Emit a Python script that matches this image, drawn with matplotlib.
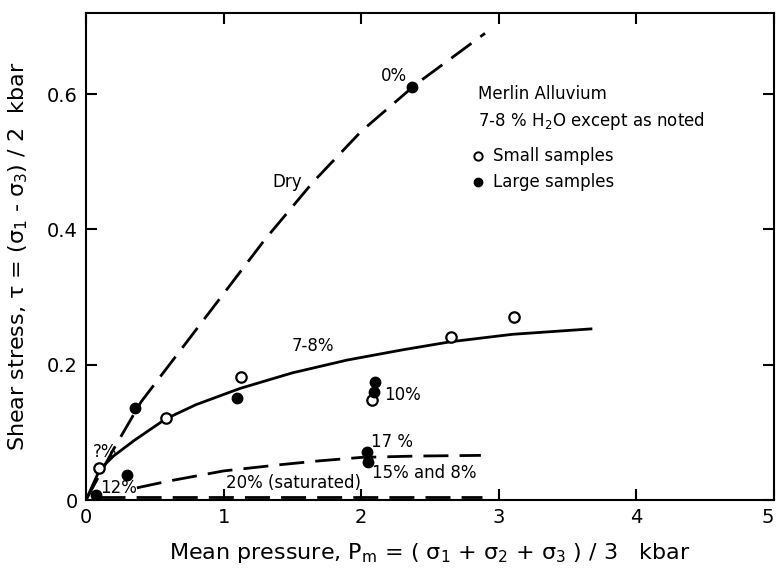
import matplotlib.pyplot as plt

plt.rcParams["font.family"] = ["DejaVu Sans"]
plt.rcParams["mathtext.default"] = "regular"

# fitted trend curves (mean pressure kbar, shear stress kbar)
dry_x = [0.0, 0.2, 0.4, 0.7, 1.0, 1.3, 1.65, 2.0, 2.4, 2.9]
dry_y = [0.0, 0.075, 0.145, 0.225, 0.305, 0.385, 0.47, 0.545, 0.615, 0.69]

moist_x = [0.0, 0.1, 0.2, 0.35, 0.58, 0.8, 1.12, 1.5, 1.9, 2.3, 2.65, 3.1, 3.67]
moist_y = [0.0, 0.045, 0.065, 0.088, 0.12, 0.141, 0.165, 0.188, 0.207,
           0.222, 0.234, 0.245, 0.253]

wet_x = [0.37, 0.6, 1.0, 1.4, 1.7, 2.0, 2.4, 2.87]
wet_y = [0.018, 0.028, 0.043, 0.052, 0.058, 0.063, 0.065, 0.066]

sat_x = [0.1, 2.88]
sat_y = [0.004, 0.004]

# test points
small_x = [0.094, 0.58, 1.125, 2.08, 2.65, 3.11]
small_y = [0.047, 0.121, 0.182, 0.148, 0.241, 0.271]

large_x = [0.07, 0.30, 0.356, 1.096, 2.09, 2.10, 2.04, 2.05, 2.37]
large_y = [0.007, 0.037, 0.136, 0.151, 0.160, 0.175, 0.071, 0.056, 0.610]

fig = plt.figure(figsize=(7.78, 5.71), dpi=100)
ax = fig.add_axes([0.1105, 0.1243, 0.8843, 0.8529])

dash = (0, (9, 4))
ax.plot(dry_x, dry_y, color="black", lw=2, linestyle=dash)
ax.plot(moist_x, moist_y, color="black", lw=2)
ax.plot(wet_x, wet_y, color="black", lw=2, linestyle=dash)
ax.plot(sat_x, sat_y, color="black", lw=2, linestyle=dash)

ax.plot(small_x, small_y, "o", ms=7.5, mfc="white", mec="black", mew=1.6,
        linestyle="none")
ax.plot(large_x, large_y, "o", ms=7.5, color="black", linestyle="none")

lab = dict(fontsize=12, color="black")
ax.text(1.46, 0.47, "Dry", ha="center", va="center", **lab)
ax.text(2.24, 0.627, "0%", ha="center", va="center", **lab)
ax.text(1.65, 0.227, "7-8%", ha="center", va="center", **lab)
ax.text(2.17, 0.155, "10%", ha="left", va="center", **lab)
ax.text(2.07, 0.086, "17 %", ha="left", va="center", **lab)
ax.text(2.08, 0.040, "15% and 8%", ha="left", va="center", **lab)
ax.text(1.02, 0.025, "20% (saturated)", ha="left", va="center", **lab)
ax.text(0.14, 0.071, "?%", ha="center", va="center", **lab)
ax.text(0.235, 0.018, "12%", ha="center", va="center", **lab)

# key in the upper right
ax.text(2.85, 0.60, "Merlin Alluvium", fontsize=12, va="center")
ax.text(2.85, 0.56, "7-8 % $H_2O$ except as noted", fontsize=12,
        va="center")
ax.plot([2.85], [0.508], "o", ms=6, mfc="white", mec="black", mew=1.4)
ax.text(2.96, 0.508, "Small samples", fontsize=12, va="center")
ax.plot([2.85], [0.47], "o", ms=6, color="black")
ax.text(2.96, 0.47, "Large samples", fontsize=12, va="center")

ax.set_xlim(0, 5)
ax.set_ylim(0, 0.72)
ax.set_xticks([0, 1, 2, 3, 4, 5])
ax.set_xticklabels(["0", "1", "2", "3", "4", "5"])
ax.set_yticks([0, 0.2, 0.4, 0.6])
ax.set_yticklabels(["0", "0.2", "0.4", "0.6"])
ax.tick_params(direction="in", length=8, width=1.5, labelsize=14,
               top=True, right=True, pad=6)
# keep the last x label inside the figure edge
ax.get_xticklabels()[-1].set_horizontalalignment("right")
for s in ax.spines.values():
    s.set_linewidth(1.5)

ax.set_xlabel(r"Mean pressure, $P_m$ = ( $\sigma_1$ + $\sigma_2$ + $\sigma_3$ ) / 3   kbar",
              fontsize=16, labelpad=10)
ax.set_ylabel(r"Shear stress, $\tau$ = ($\sigma_1$ - $\sigma_3$) / 2  kbar",
              fontsize=16, labelpad=12)

fig.savefig("out.png", dpi=100)
